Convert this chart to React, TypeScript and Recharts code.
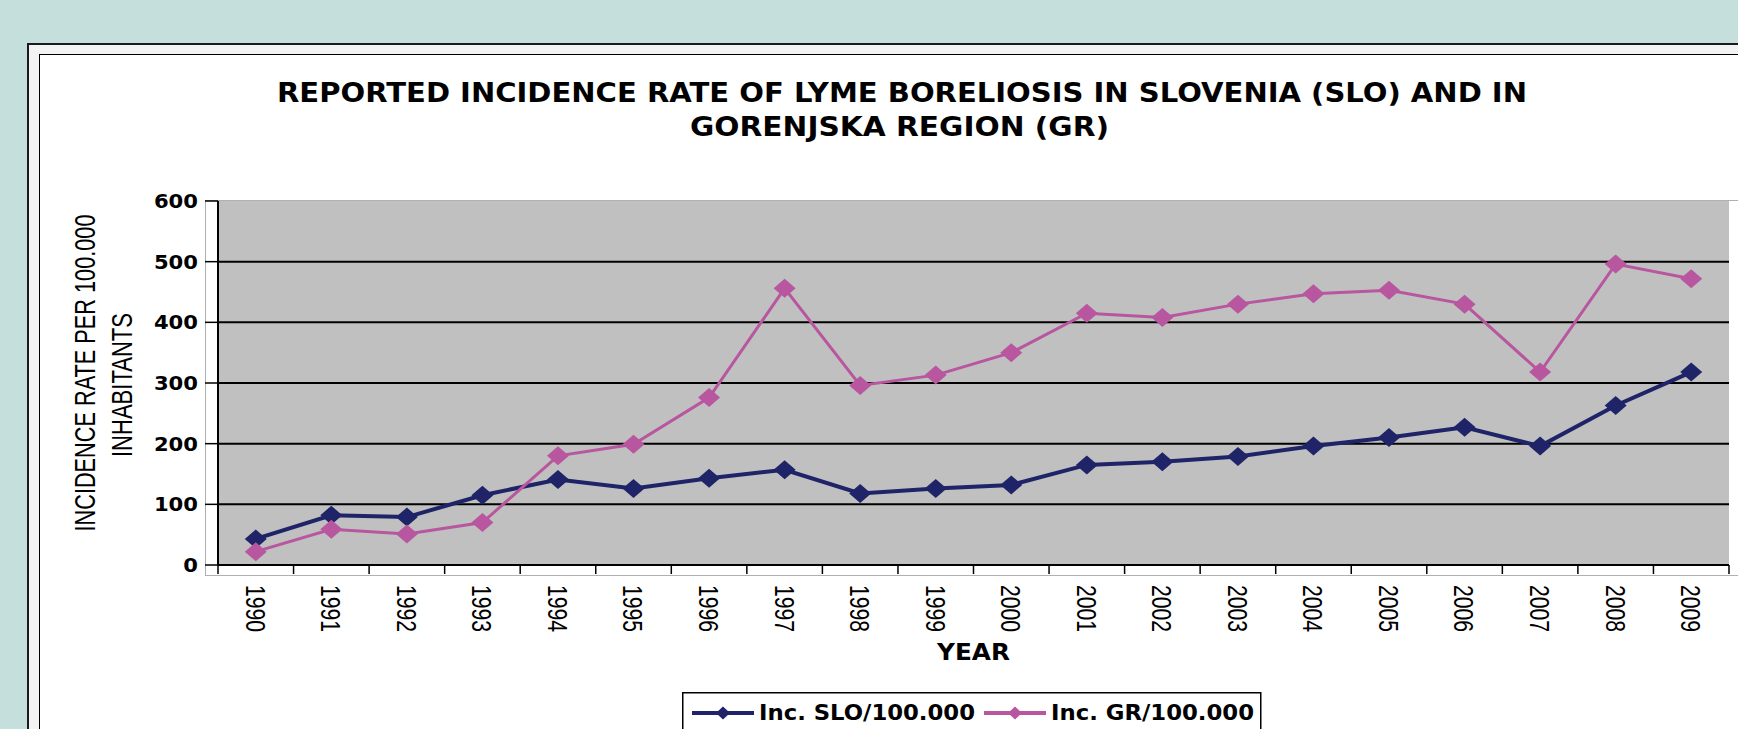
import React from 'react';
import {LineChart, Line, XAxis, YAxis, CartesianGrid, Legend} from 'recharts';

// values (cases per 100.000 inhabitants)
const years = ['1990', '1991', '1992', '1993', '1994', '1995', '1996', '1997', '1998', '1999',
    '2000', '2001', '2002', '2003', '2004', '2005', '2006', '2007', '2008', '2009'];
const sloRates = [43, 82, 79, 115, 141, 126, 143, 157, 118, 126, 132, 165, 170, 179, 196, 210, 227, 196, 263, 318];
const grRates = [22, 59, 51, 70, 180, 199, 276, 456, 296, 313, 350, 415, 408, 430, 447, 453, 430, 318, 496, 472];
const rateTicks = [0, 100, 200, 300, 400, 500, 600];
const gridRates = [100, 200, 300, 400, 500];
const seriesNames = ['Inc. SLO/100.000', 'Inc.  GR/100.000'];
const legendTextLengths = [216, 203];

const data = years.map((year, i) => ({year, slo: sloRates[i], gr: grRates[i]}));

const W = 1738;
const H = 729;
const PLOT_LEFT = 218;
const PLOT_RIGHT = 1729;
const PLOT_TOP = 201;
const PLOT_BOTTOM = 565;
const HALF_STEP = (PLOT_RIGHT - PLOT_LEFT) / years.length / 2;
const LEGEND_TOP = 692;
const LEGEND_H = H - LEGEND_TOP;
const LEGEND_W = 660;

const SLO_COLOR = '#1F2468';
const GR_COLOR = '#B8569F';
const SANS = '"DejaVu Sans", Verdana, sans-serif';
const NARROW = '"Liberation Sans", Arial, sans-serif';

const Diamond = (props: any) => {
    const {cx, cy, fill, index, w = 11, h = 9.5} = props;
    if (cx == null || cy == null) return <g key={index}/>;
    return <path key={index} d={`M${cx},${cy - h}L${cx + w},${cy}L${cx},${cy + h}L${cx - w},${cy}Z`} fill={fill}/>;
};

const YearTick = (props: any) => {
    const {x, y, payload, index} = props;
    return (
        <g>
            <line x1={x - HALF_STEP} x2={x - HALF_STEP} y1={y} y2={y + 9} stroke="#000" strokeWidth={1.5}/>
            {index === years.length - 1 &&
                <line x1={x + HALF_STEP} x2={x + HALF_STEP} y1={y} y2={y + 9} stroke="#000" strokeWidth={1.5}/>}
            <g transform={`translate(${x},${y + 20}) rotate(90)`}>
                <text x={0} y={0} dy="0.36em" fontSize={28} fontFamily={NARROW} fill="#000"
                      textLength={47} lengthAdjust="spacingAndGlyphs">{payload.value}</text>
            </g>
        </g>
    );
};

const RateTick = (props: any) => {
    const {x, y, payload} = props;
    const label = String(payload.value);
    return (
        <text x={x} y={y} dy="0.36em" textAnchor="end" fontSize={19} fontWeight="bold" fontFamily={SANS}
              fill="#000" textLength={label.length * 14.7} lengthAdjust="spacingAndGlyphs">{label}</text>
    );
};

const LegendBox = (props: any) => {
    // keep the series order of the original legend
    const items = [...(props.payload || [])].sort(
        (a: any, b: any) => seriesNames.indexOf(a.value) - seriesNames.indexOf(b.value));
    return (
        <svg width={LEGEND_W} height={LEGEND_H} style={{display: 'block'}}>
            {/* box runs past the bottom edge, as in the original slide */}
            <rect x={0.75} y={0.75} width={578} height={80} fill="#fff" stroke="#000" strokeWidth={1.5}/>
            {items.map((item: any, i: number) => {
                const x0 = 10 + i * 292;
                return (
                    <g key={item.value}>
                        <line x1={x0} x2={x0 + 62} y1={21} y2={21} stroke={item.color} strokeWidth={4}/>
                        <Diamond cx={x0 + 31} cy={21} w={7} h={6.5} fill={item.color} index={i}/>
                        <text x={x0 + 67} y={28} fontSize={22} fontWeight="bold" fontFamily={SANS} fill="#000"
                              textLength={legendTextLengths[i]} lengthAdjust="spacingAndGlyphs">{item.value}</text>
                    </g>
                );
            })}
        </svg>
    );
};

const App: React.FC = () => {
    return (
        <div style={{position: 'absolute', left: 0, top: 0, width: W, height: H, overflow: 'hidden', background: '#C5E0DC'}}>
            {/* slide panel with double frame */}
            <div style={{position: 'absolute', left: 27, top: 43, width: 1800, height: 800, border: '2px solid #1a1a1a', background: '#F3F3F3'}}/>
            <div style={{position: 'absolute', left: 39, top: 54, width: 1800, height: 800, border: '1.5px solid #000', background: '#fff'}}/>
            {/* faint frame around the plot */}
            <div style={{position: 'absolute', left: 205, top: 200, width: 1560, height: 374, border: '1.5px solid #B0B0B0'}}/>

            <div style={{position: 'absolute', left: 0, top: 0}}>
                <LineChart width={W} height={H} data={data}
                           margin={{top: PLOT_TOP, right: W - PLOT_RIGHT, left: 0, bottom: 0}}>
                    <CartesianGrid vertical={false} horizontalValues={gridRates} fill="#C0C0C0" fillOpacity={1}
                                   stroke="#000" strokeWidth={2}/>
                    <XAxis dataKey="year" interval={0} height={H - PLOT_BOTTOM - LEGEND_H}
                           padding={{left: HALF_STEP, right: HALF_STEP}}
                           tickLine={false} tickSize={0} tickMargin={0} tick={<YearTick/>}
                           axisLine={{stroke: '#000', strokeWidth: 2}}/>
                    <YAxis width={PLOT_LEFT} domain={[0, 600]} ticks={rateTicks} interval={0}
                           tickSize={13} tickMargin={7} tick={<RateTick/>}
                           tickLine={{stroke: '#000', strokeWidth: 1.5}}
                           axisLine={{stroke: '#000', strokeWidth: 2}}/>
                    <Legend verticalAlign="bottom" content={<LegendBox/>}
                            wrapperStyle={{left: 682, top: LEGEND_TOP, width: LEGEND_W, height: LEGEND_H}}/>
                    <Line dataKey="slo" name={seriesNames[0]} stroke={SLO_COLOR} strokeWidth={4}
                          dot={(p: any) => <Diamond {...p} key={`slo-${p.index}`} fill={SLO_COLOR}/>}
                          activeDot={false} isAnimationActive={false}/>
                    <Line dataKey="gr" name={seriesNames[1]} stroke={GR_COLOR} strokeWidth={3}
                          dot={(p: any) => <Diamond {...p} key={`gr-${p.index}`} fill={GR_COLOR}/>}
                          activeDot={false} isAnimationActive={false}/>
                </LineChart>
            </div>

            {/* title and axis titles */}
            <svg width={W} height={H} style={{position: 'absolute', left: 0, top: 0, pointerEvents: 'none'}}>
                <text x={277} y={102} fontSize={26} fontWeight="bold" fontFamily={SANS} fill="#000"
                      textLength={1250} lengthAdjust="spacingAndGlyphs">
                    REPORTED INCIDENCE RATE OF LYME BORELIOSIS IN SLOVENIA (SLO) AND IN
                </text>
                <text x={690} y={136} fontSize={26} fontWeight="bold" fontFamily={SANS} fill="#000"
                      textLength={419} lengthAdjust="spacingAndGlyphs">GORENJSKA REGION (GR)</text>
                <g transform="translate(85,373) rotate(-90)">
                    <text x={0} y={0} dy="0.36em" textAnchor="middle" fontSize={29} fontFamily={NARROW} fill="#000"
                          textLength={317} lengthAdjust="spacingAndGlyphs">INCIDENCE RATE PER 100.000</text>
                </g>
                <g transform="translate(122,385) rotate(-90)">
                    <text x={0} y={0} dy="0.36em" textAnchor="middle" fontSize={29} fontFamily={NARROW} fill="#000"
                          textLength={144} lengthAdjust="spacingAndGlyphs">INHABITANTS</text>
                </g>
                <text x={937} y={660} fontSize={23} fontWeight="bold" fontFamily={SANS} fill="#000"
                      textLength={73} lengthAdjust="spacingAndGlyphs">YEAR</text>
            </svg>
        </div>
    );
};

export default App;
